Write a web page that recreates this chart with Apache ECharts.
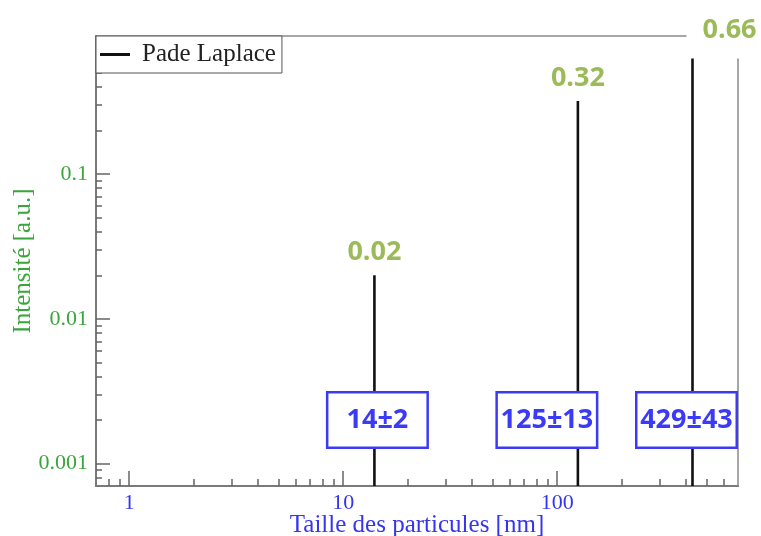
<!DOCTYPE html>
<html>
<head>
<meta charset="utf-8">
<script src="https://cdn.jsdelivr.net/npm/echarts@6/dist/echarts.min.js"></script>
<style>
  html, body { margin: 0; padding: 0; background: #fff; }
  #chart { width: 761px; height: 536px; }
</style>
</head>
<body>
<div id="chart"></div>
<script>
// Particle size distribution from the Pade-Laplace analysis
const peakSizes = [14, 125, 429];            // nm
const peakIntensities = [0.02, 0.32, 0.66];  // a.u.
const sizeLabels = ['14±2', '125±13', '429±43'];

const xRange = [0.7, 700];
const yRange = [0.0007, 0.9];
const xMajorTicks = [1, 10, 100];
const yMajorTicks = [0.001, 0.01, 0.1];
const decadeSteps = [2, 3, 4, 5, 6, 7, 8, 9];

// level (in a.u.) at which the size annotations sit
const annotationLevel = 0.002;

function minorTicks(range) {
  const out = [];
  const lo = Math.floor(Math.log10(range[0]));
  const hi = Math.ceil(Math.log10(range[1]));
  for (let e = lo; e <= hi; e++) {
    decadeSteps.forEach(function (d) {
      const v = +(d * Math.pow(10, e)).toPrecision(6);
      if (v > range[0] && v < range[1]) out.push(v);
    });
  }
  return out;
}

const GREEN_VAL = '#9bbb59';
const BLUE_BOX = '#3b3bf7';
const AXIS_GREEN = '#3aa53a';
const AXIS_BLUE = '#3535f0';
const SERIF = '"Liberation Serif", "DejaVu Serif", serif';
const SANS = '"Open Sans", "Noto Sans", sans-serif';

const chart = echarts.init(document.getElementById('chart'), null, { renderer: 'canvas' });

const stems = peakSizes.map(function (s, i) { return [s, peakIntensities[i]]; });
const annotations = peakSizes.map(function (s) { return [s, annotationLevel]; });
const boxOffsets = [3, -31, -6];

const axisLineStyle = { color: '#7a7a7a', width: 2 };
const tickStyle = { color: '#666', width: 1.5 };

chart.setOption({
  animation: false,
  backgroundColor: '#fff',
  grid: {
    left: 96, right: 23, top: 36, bottom: 50,
    outerBoundsMode: 'none', containLabel: false,
    show: true, borderColor: '#8a8a8a', borderWidth: 1.5, backgroundColor: 'transparent'
  },
  legend: {
    left: 96, top: 36,
    orient: 'horizontal',
    data: [{ name: 'Pade Laplace', icon: 'rect' }],
    itemWidth: 30, itemHeight: 3, itemGap: 0,
    padding: [6, 6, 6, 4],
    backgroundColor: '#fff',
    borderColor: '#555', borderWidth: 1,
    textStyle: { fontFamily: SERIF, fontSize: 25, color: '#222', padding: [0, 0, 0, 7] },
    selectedMode: false
  },
  xAxis: [{
    type: 'log', logBase: 10, min: xRange[0], max: xRange[1],
    position: 'bottom',
    name: 'Taille des particules [nm]',
    nameLocation: 'middle', nameGap: 27, nameMoveOverlap: false,
    nameTextStyle: { fontFamily: SERIF, fontSize: 25, color: AXIS_BLUE, verticalAlign: 'top' },
    axisLine: { show: true, lineStyle: axisLineStyle },
    axisTick: { show: true, inside: true, length: 15, lineStyle: tickStyle, customValues: xMajorTicks },
    axisLabel: { show: true, margin: 6, fontFamily: SERIF, fontSize: 22, color: AXIS_BLUE, customValues: xMajorTicks,
      formatter: function (v) { return String(v); } },
    splitLine: { show: false }
  }, {
    type: 'log', logBase: 10, min: xRange[0], max: xRange[1],
    position: 'bottom',
    axisLine: { show: false },
    axisTick: { show: true, inside: true, length: 7, lineStyle: tickStyle, customValues: minorTicks(xRange) },
    axisLabel: { show: false },
    splitLine: { show: false }
  }],
  yAxis: [{
    type: 'log', logBase: 10, min: yRange[0], max: yRange[1],
    position: 'left',
    name: 'Intensité [a.u.]',
    nameLocation: 'middle', nameGap: 60, nameRotate: 90, nameMoveOverlap: false,
    nameTextStyle: { fontFamily: SERIF, fontSize: 25, color: AXIS_GREEN, verticalAlign: 'bottom' },
    axisLine: { show: true, lineStyle: axisLineStyle },
    axisTick: { show: true, inside: true, length: 14, lineStyle: tickStyle, customValues: yMajorTicks },
    axisLabel: { show: true, margin: 8, fontFamily: SERIF, fontSize: 22, color: AXIS_GREEN, customValues: yMajorTicks,
      formatter: function (v) { return String(v); } },
    splitLine: { show: false }
  }, {
    type: 'log', logBase: 10, min: yRange[0], max: yRange[1],
    position: 'left',
    axisLine: { show: false },
    axisTick: { show: true, inside: true, length: 6, lineStyle: tickStyle, customValues: minorTicks(yRange) },
    axisLabel: { show: false },
    splitLine: { show: false }
  }],
  series: [{
    name: 'Pade Laplace',
    type: 'custom',
    xAxisIndex: 0, yAxisIndex: 0,
    itemStyle: { color: '#111' },
    data: stems,
    renderItem: function (params, api) {
      const top = api.coord([api.value(0), api.value(1)]);
      const base = params.coordSys.y + params.coordSys.height;
      return {
        type: 'line',
        shape: { x1: top[0], y1: top[1], x2: top[0], y2: base },
        style: { stroke: '#111', lineWidth: 2.6 }
      };
    },
    z: 3
  }, {
    name: 'valeurs',
    type: 'scatter',
    xAxisIndex: 0, yAxisIndex: 0,
    symbolSize: 0,
    itemStyle: { opacity: 1 },
    data: stems.map(function (d, i) {
      const item = { value: d };
      if (i === 2) {
        item.label = { offset: [44, 13], backgroundColor: '#fff', padding: [14, 30, 15, 16] };
      }
      return item;
    }),
    label: {
      show: true, position: 'top', distance: 10,
      fontFamily: SANS, fontWeight: 'bold', fontSize: 27, lineHeight: 26, color: GREEN_VAL,
      formatter: function (p) { return String(p.value[1]); }
    },
    z: 5
  }, {
    name: 'tailles',
    type: 'scatter',
    xAxisIndex: 0, yAxisIndex: 0,
    symbolSize: 0,
    itemStyle: { opacity: 1 },
    data: annotations.map(function (d, i) {
      return { value: d, label: { offset: [boxOffsets[i], 0] } };
    }),
    label: {
      show: true, position: 'inside',
      fontFamily: SANS, fontWeight: 'bold', fontSize: 27, color: BLUE_BOX,
      backgroundColor: '#fff', borderColor: BLUE_BOX, borderWidth: 2.5,
      width: 98, height: 53, lineHeight: 53, align: 'center', verticalAlign: 'middle', padding: 0,
      formatter: function (p) { return sizeLabels[p.dataIndex]; }
    },
    z: 6
  }]
});
</script>
</body>
</html>
